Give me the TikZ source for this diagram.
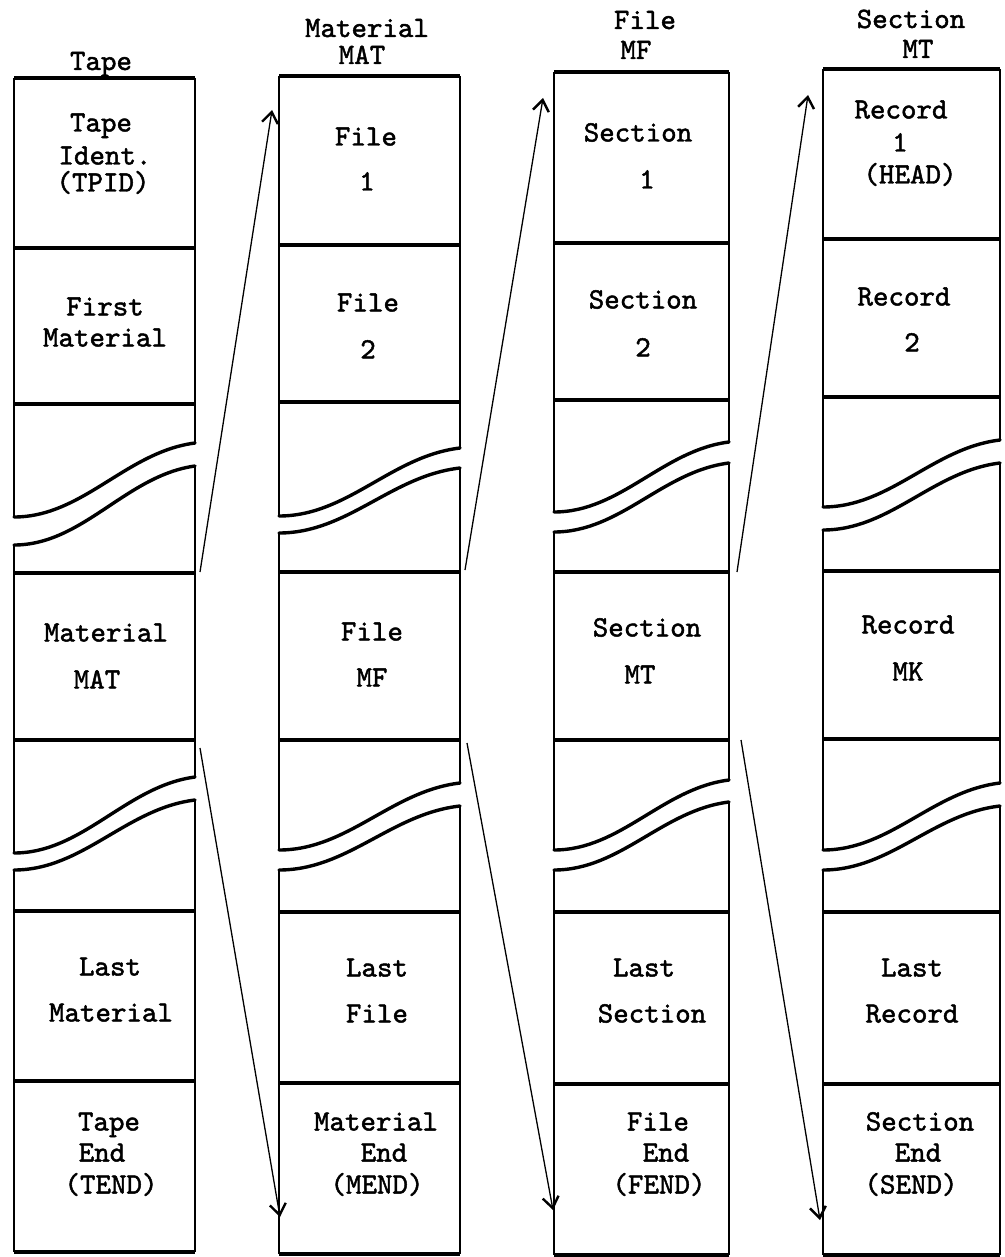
\documentclass[tikz,border=0pt]{standalone}
\usepackage{fontspec}
\newfontfamily\twfont{lmmono10-regular.otf}[FakeBold=1.6]
\usetikzlibrary{arrows.meta}
\tikzset{
  vline/.style={line width=1.6pt},
  hline/.style={line width=3.2pt},
  wavel/.style={line width=3.4pt, line cap=round},
  lbl/.style={font=\twfont\fontsize{29.5}{31}\selectfont, inner sep=0pt, text height=22pt, text depth=5pt, anchor=center},
  hdr/.style={lbl, text height=19pt, text depth=3pt},
  arr/.style={line width=1.3pt, -{Straight Barb[length=11pt,width=16pt,line width=2.4pt]}},
}
\newcommand\colseg[6]{\draw[vline] (#1,#3) -- (#1,#5) (#2,#4) -- (#2,#6);}
\newcommand\colhl[3]{\draw[hline] (#1,#3) -- (#2,#3);}
\newcommand\colwave[4]{\draw[wavel] (#1,#3) .. controls ({#1+0.38*(#2-#1)},#3) and ({#1+0.62*(#2-#1)},{#4+0.12*(#3-#4)}) .. (#2,#4);}
\newcommand\txt[4]{\node[lbl] (#1) at (#2,#3) {#4};}
\newcommand\htxt[4]{\node[hdr] (#1) at (#2,#3) {#4};}
\begin{document}
\begin{tikzpicture}[x=1pt,y=-1pt]
\useasboundingbox (0,0) rectangle (1004,1257);
\fill[white] (0,0) rectangle (1004,1257);

% ---------- Column 1 (Tape) ----------
\colseg{14}{195}{78}{78}{517}{443}
\colseg{14}{195}{545}{466}{853}{777}
\colseg{14}{195}{870}{800}{1252}{1252}
\colhl{14}{195}{78}
\colhl{14}{195}{248}
\colhl{14}{195}{404}
\colhl{14}{195}{573}
\colhl{14}{195}{740}
\colhl{14}{195}{911}
\colhl{14}{195}{1081}
\colhl{14}{195}{1252}
\colwave{14}{195}{517}{443}
\colwave{14}{195}{545}{466}
\colwave{14}{195}{853}{777}
\colwave{14}{195}{870}{800}

% ---------- Column 2 (Material) ----------
\colseg{279}{460}{76}{76}{516}{448}
\colseg{279}{460}{533}{468}{850}{783}
\colseg{279}{460}{870}{806}{1254}{1254}
\colhl{279}{460}{76}
\colhl{279}{460}{245}
\colhl{279}{460}{402}
\colhl{279}{460}{572}
\colhl{279}{460}{740}
\colhl{279}{460}{912}
\colhl{279}{460}{1083}
\colhl{279}{460}{1254}
\colwave{279}{460}{516}{448}
\colwave{279}{460}{533}{468}
\colwave{279}{460}{850}{783}
\colwave{279}{460}{870}{806}

% ---------- Column 3 (File) ----------
\colseg{554}{729}{72}{72}{512}{442}
\colseg{554}{729}{532}{463}{850}{780}
\colseg{554}{729}{870}{802}{1255}{1255}
\colhl{554}{729}{72}
\colhl{554}{729}{243}
\colhl{554}{729}{400}
\colhl{554}{729}{572}
\colhl{554}{729}{740}
\colhl{554}{729}{912}
\colhl{554}{729}{1084}
\colhl{554}{729}{1255}
\colwave{554}{729}{512}{442}
\colwave{554}{729}{532}{463}
\colwave{554}{729}{850}{780}
\colwave{554}{729}{870}{802}

% ---------- Column 4 (Section) ----------
\colseg{823}{1000}{69}{69}{507}{440}
\colseg{823}{1000}{530}{463}{850}{783}
\colseg{823}{1000}{870}{806}{1255}{1255}
\colhl{823}{1000}{69}
\colhl{823}{1000}{239}
\colhl{823}{1000}{397}
\colhl{823}{1000}{571}
\colhl{823}{1000}{739}
\colhl{823}{1000}{912}
\colhl{823}{1000}{1084}
\colhl{823}{1000}{1255}
\colwave{823}{1000}{507}{440}
\colwave{823}{1000}{530}{463}
\colwave{823}{1000}{850}{783}
\colwave{823}{1000}{870}{806}

% ---------- Headers ----------
\htxt{h1}{101}{62}{Tape}
\htxt{h2a}{367}{29}{Material}
\htxt{h2b}{362}{56}{MAT}
\htxt{h3a}{645}{21}{File}
\htxt{h3b}{636}{51}{MF}
\htxt{h4a}{911}{20}{Section}
\htxt{h4b}{918}{50}{MT}

% ---------- Column 1 texts ----------
\txt{a1}{101}{123}{Tape}
\txt{a2}{105}{156}{Ident.}
\txt{a3}{103}{183}{(TPID)}
\txt{a4}{105}{307}{First}
\txt{a5}{105}{338}{Material}
\txt{a6}{106}{633}{Material}
\txt{a7}{97}{680}{MAT}
\txt{a8}{110}{967}{Last}
\txt{a9}{111}{1013}{Material}
\txt{a10}{109}{1122}{Tape}
\txt{a11}{102}{1153}{End}
\txt{a12}{111}{1185}{(TEND)}

% ---------- Column 2 texts ----------
\txt{b1}{366}{137}{File}
\txt{b2}{367}{182}{1}
\txt{b3}{368}{303}{File}
\txt{b4}{368}{350}{2}
\txt{b5}{372}{632}{File}
\txt{b6}{372}{678}{MF}
\txt{b7}{377}{968}{Last}
\txt{b8}{377}{1014}{File}
\txt{b9}{376}{1122}{Material}
\txt{b10}{384}{1153}{End}
\txt{b11}{377}{1185}{(MEND)}

% ---------- Column 3 texts ----------
\txt{c1}{638}{133}{Section}
\txt{c2}{647}{180}{1}
\txt{c3}{643}{300}{Section}
\txt{c4}{643}{348}{2}
\txt{c5}{647}{628}{Section}
\txt{c6}{640}{675}{MT}
\txt{c7}{644}{968}{Last}
\txt{c8}{652}{1014}{Section}
\txt{c9}{658}{1122}{File}
\txt{c10}{666}{1153}{End}
\txt{c11}{659}{1185}{(FEND)}

% ---------- Column 4 texts ----------
\txt{e1}{901}{110}{Record}
\txt{e2}{900}{143}{1}
\txt{e3}{910}{175}{(HEAD)}
\txt{e4}{904}{297}{Record}
\txt{e5}{912}{343}{2}
\txt{e6}{908}{625}{Record}
\txt{e7}{908}{672}{MK}
\txt{e8}{912}{968}{Last}
\txt{e9}{912}{1014}{Record}
\txt{e10}{920}{1122}{Section}
\txt{e11}{918}{1153}{End}
\txt{e12}{911}{1185}{(SEND)}

% ---------- Arrows ----------
\coordinate (u1s) at (200,572);
\coordinate (u1e) at (272,110);
\coordinate (d1s) at (200,748);
\coordinate (d1e) at (280,1217);
\coordinate (u2s) at (465,570);
\coordinate (u2e) at (543,98);
\coordinate (d2s) at (467,743);
\coordinate (d2e) at (553,1210);
\coordinate (u3s) at (737,572);
\coordinate (u3e) at (808,95);
\coordinate (d3s) at (741,740);
\coordinate (d3e) at (820,1220);
\draw[arr] (u1s) -- (u1e);
\draw[arr] (d1s) -- (d1e);
\draw[arr] (u2s) -- (u2e);
\draw[arr] (d2s) -- (d2e);
\draw[arr] (u3s) -- (u3e);
\draw[arr] (d3s) -- (d3e);
\end{tikzpicture}
\end{document}
